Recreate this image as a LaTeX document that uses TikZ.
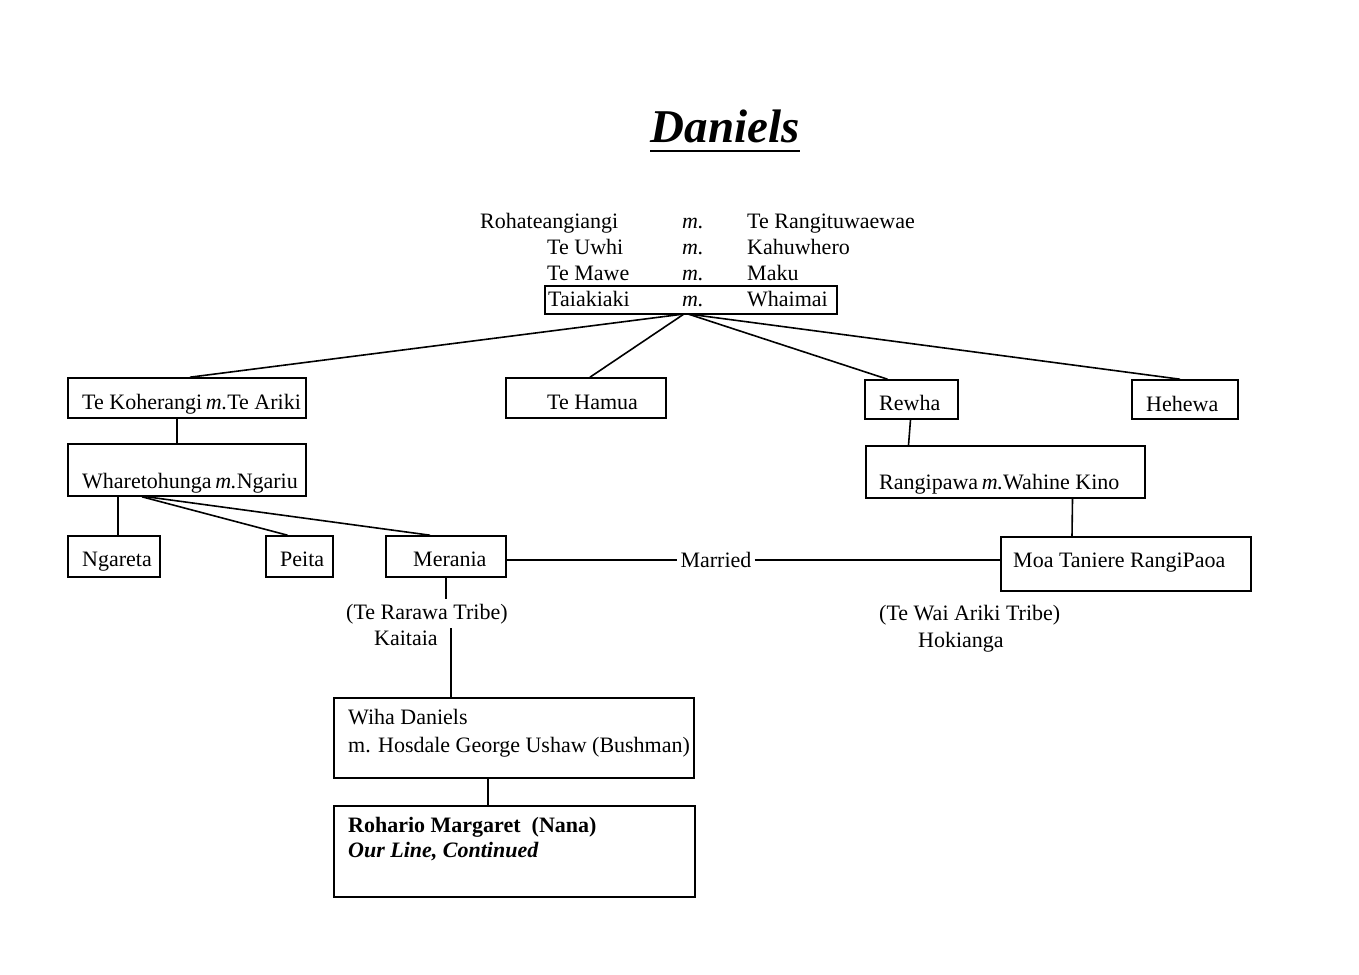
\documentclass[tikz,border=0pt]{standalone}
\usepackage{fontspec}
\setmainfont{Liberation Serif}
\usetikzlibrary{calc}
\begin{document}
\begin{tikzpicture}[x=1pt,y=-1pt,
  box/.style={draw, line width=1.6pt, rectangle, inner sep=0pt},
  txt/.style={anchor=base west, inner sep=0pt, font=\fontsize{22}{25}\selectfont},
  ctxt/.style={anchor=base, inner sep=0pt, font=\fontsize{22}{25}\selectfont},
  conn/.style={line width=1.6pt}]
\useasboundingbox[fill=white] (0,0) rectangle (1359,974);
\newcommand{\hm}{\textit{m.}}
% title
\node[anchor=base, inner sep=0pt, font=\fontsize{47}{50}\selectfont\bfseries\itshape] (title) at (725,142) {Daniels};
\draw[line width=1.6pt] ($(title.base west)+(0,9)$) -- ($(title.base east)+(0,9)$);
% top lines
\node[txt] (r1a) at (480,228) {Rohateangiangi};
\node[txt] (r1m) at (682,228) {\hm};
\node[txt] (r1b) at (747,228) {Te Rangituwaewae};
\node[txt] (r2a) at (547,254) {Te Uwhi};
\node[txt] (r2m) at (682,254) {\hm};
\node[txt] (r2b) at (747,254) {Kahuwhero};
\node[txt] (r3a) at (547,280) {Te Mawe};
\node[txt] (r3m) at (682,280) {\hm};
\node[txt] (r3b) at (747,280) {Maku};
\node[box, minimum width=292, minimum height=28] (cpl) at (691,300) {};
\node[txt] (r4a) at (548,306) {Taiakiaki};
\node[txt] (r4m) at (682,306) {\hm};
\node[txt] (r4b) at (747,306) {Whaimai};
\coordinate (hub) at (684,314);
% generation boxes
\node[box, minimum width=238, minimum height=40] (koh) at (187,398) {};
\node[txt] at (82,409) {Te Koherangi\,\hm Te Ariki};
\node[box, minimum width=160, minimum height=40] (ham) at (586,398) {};
\node[txt] at (547,409) {Te Hamua};
\node[box, minimum width=93, minimum height=39] (rew) at (911.5,399.5) {};
\node[txt] at (879,410) {Rewha};
\node[box, minimum width=106, minimum height=39] (heh) at (1185,399.5) {};
\node[txt] at (1146,411) {Hehewa};
\node[box, minimum width=238, minimum height=52] (wha) at (187,470) {};
\node[txt] at (82,488) {Wharetohunga\,\hm Ngariu};
\node[box, minimum width=279, minimum height=52] (rng) at (1005.5,472) {};
\node[txt] at (879,489) {Rangipawa\,\hm Wahine Kino};
\node[box, minimum width=92, minimum height=41] (nga) at (114,556.5) {};
\node[txt] at (82,566) {Ngareta};
\node[box, minimum width=67, minimum height=41] (pei) at (299.5,556.5) {};
\node[txt] at (280,566) {Peita};
\node[box, minimum width=120, minimum height=41] (mer) at (446,556.5) {};
\node[txt] at (413,566) {Merania};
\node[box, minimum width=250, minimum height=54] (moa) at (1126,564) {};
\node[txt] at (1013,567) {Moa Taniere RangiPaoa};
\node[ctxt] (mar) at (716,567) {Married};
\node[txt] (rar) at (346,619) {(Te Rarawa Tribe)};
\node[txt] (kai) at (374,645) {Kaitaia};
\node[txt] (wai) at (879,620) {(Te Wai Ariki Tribe)};
\node[txt] (hok) at (918,647) {Hokianga};
\node[box, minimum width=360, minimum height=80] (wih) at (514,738) {};
\node[txt] at (348,724) {Wiha Daniels};
\node[txt] at (348,752) {m. Hosdale George Ushaw (Bushman)};
\node[box, minimum width=361, minimum height=91] (roh) at (514.5,851.5) {};
\node[txt, font=\fontsize{22}{25}\selectfont\bfseries] at (348,832) {Rohario Margaret\ \ (Nana)};
\node[txt, font=\fontsize{22}{25}\selectfont\bfseries\itshape] at (348,857) {Our Line, Continued};
% connectors
\draw[conn] (hub) -- ([xshift=3pt]koh.north);
\draw[conn] (hub) -- ([xshift=4pt]ham.north);
\draw[conn] ([xshift=4pt]hub) -- ([xshift=-24pt]rew.north);
\draw[conn] ([xshift=4pt]hub) -- ([xshift=-5pt]heh.north);
\draw[conn] ([xshift=-10pt]koh.south) -- ([xshift=-10pt]wha.north);
\draw[conn] ([xshift=-69pt]wha.south) -- ([xshift=4pt]nga.north);
\draw[conn] ([xshift=-45pt]wha.south) -- ([xshift=-12pt]pei.north);
\draw[conn] ([xshift=-40pt]wha.south) -- ([xshift=-16pt]mer.north);
\draw[conn] ([xshift=-1pt]rew.south) -- ([xshift=-97pt]rng.north);
\draw[conn] ([xshift=67pt]rng.south) -- ([xshift=-54pt]moa.north);
\coordinate (my) at (0,560);
\draw[conn] (mer.east |- my) -- ([xshift=-3pt]mar.west |- my);
\draw[conn] ([xshift=3pt]mar.east |- my) -- (moa.west |- my);
\coordinate (k1) at (451,628);
\draw[conn] (mer.south) -- ++(0,21);
\draw[conn] (k1) -- (k1 |- wih.north);
\draw[conn] ([xshift=-26pt]wih.south) -- ([xshift=-26.5pt]roh.north);
\end{tikzpicture}
\end{document}
